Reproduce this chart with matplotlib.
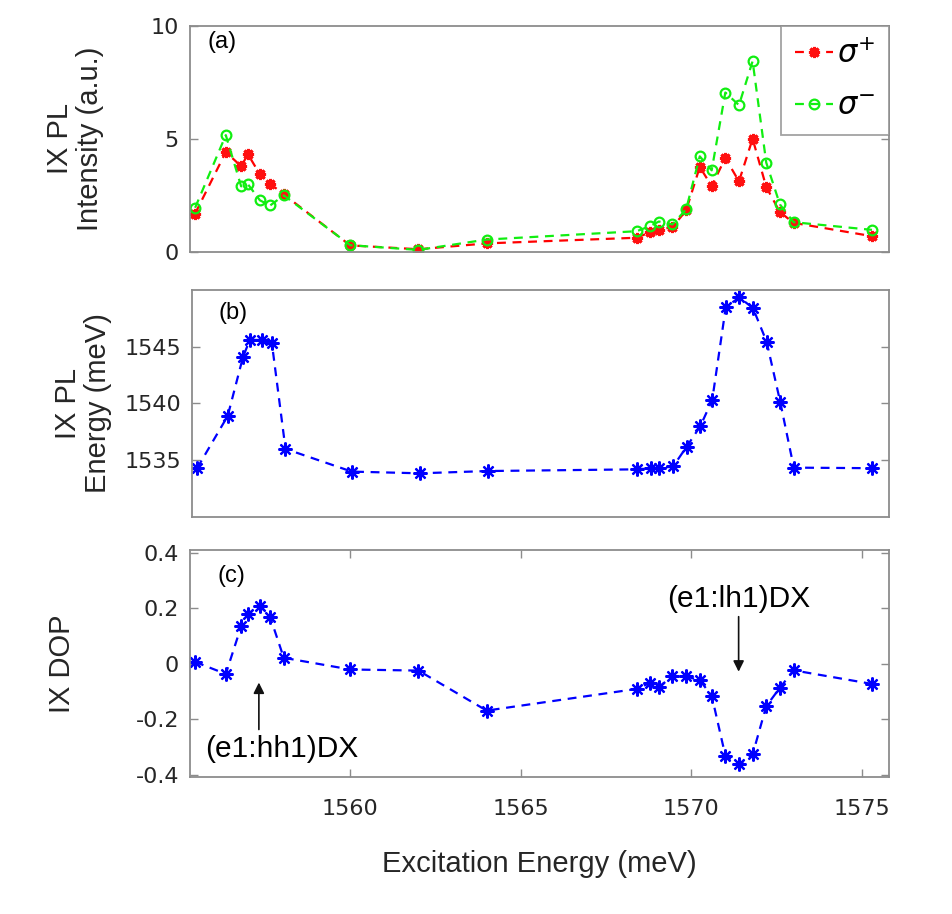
import matplotlib
matplotlib.use("Agg")
import matplotlib.pyplot as plt
import numpy as np

# ---------------- data ----------------
energy = [1555.45, 1556.35, 1556.8, 1557.0, 1557.35, 1557.65, 1558.05, 1560.0, 1562.0, 1564.0,
          1568.4, 1568.8, 1569.05, 1569.45, 1569.85, 1570.25, 1570.6, 1571.0, 1571.4, 1571.8,
          1572.2, 1572.6, 1573.0, 1575.3]

int_sigma_plus = [1.68, 4.41, 3.78, 4.31, 3.42, 3.01, 2.53, 0.27, 0.10, 0.36,
                  0.61, 0.86, 0.96, 1.08, 1.82, 3.75, 2.90, 4.15, 3.11, 5.00,
                  2.86, 1.75, 1.27, 0.68]
int_sigma_minus = [1.94, 5.16, 2.89, 2.98, 2.27, 2.04, 2.49, 0.28, 0.07, 0.53,
                   0.90, 1.13, 1.33, 1.20, 1.87, 4.22, 3.60, 7.05, 6.49, 8.44,
                   3.94, 2.09, 1.30, 0.96]

pl_energy = [1534.3, 1538.9, 1544.1, 1545.6, 1545.6, 1545.3, 1536.0, 1534.0, 1533.85, 1534.05,
             1534.2, 1534.3, 1534.3, 1534.45, 1536.2, 1538.0, 1540.3, 1548.5, 1549.35, 1548.4,
             1545.45, 1540.15, 1534.35, 1534.3]

dop = [0.007, -0.036, 0.135, 0.18, 0.21, 0.169, 0.022, -0.02, -0.024, -0.168,
       -0.09, -0.068, -0.083, -0.045, -0.045, -0.059, -0.114, -0.33, -0.362, -0.326,
       -0.152, -0.086, -0.023, -0.072]

legend_labels = [r'$\sigma^{+}$', r'$\sigma^{-}$']
xticks = [1560, 1565, 1570, 1575]

# ---------------- style ----------------
plt.rcParams['font.family'] = ['DejaVu Sans']
label_font = 'Liberation Sans'
spine_col = '#8c8c8c'
text_col = '#262626'
W, H = 953, 914

fig = plt.figure(figsize=(W / 100, H / 100), dpi=100)

def box(l, t, r, b):
    return [l / W, 1 - b / H, (r - l) / W, (b - t) / H]

ax_a = fig.add_axes(box(190, 26, 889, 251.5))
ax_b = fig.add_axes(box(192, 290, 889, 517))
ax_c = fig.add_axes(box(190, 550, 889, 777))

xlim = (1555.3, 1575.8)
for ax in (ax_a, ax_b, ax_c):
    ax.set_xlim(*xlim)
    for s in ax.spines.values():
        s.set_color(spine_col)
        s.set_linewidth(1.3)
    ax.tick_params(direction='in', length=6, width=1.0, color=spine_col,
                   labelcolor=text_col, labelsize=16, right=True, top=True, pad=8)

ast = (8, 2, 0)

# (a)
ax_a.plot(energy, int_sigma_plus, linestyle=(0, (4, 3)), color='#ff0000', lw=1.6,
          marker=ast, ms=8, mew=2.2, mec='#ff1010', label=legend_labels[0])
ax_a.plot(energy, int_sigma_minus, linestyle=(0, (4, 3)), color='#11ee11', lw=1.6,
          marker='o', ms=7, mew=1.6, mfc='none', mec='#11ee11', label=legend_labels[1])
ax_a.set_ylim(0, 10)
ax_a.set_yticks([0, 5, 10])
ax_a.set_xticks([])
leg = ax_a.legend(loc='upper right', fontsize=22, frameon=True, fancybox=False,
                  borderaxespad=0, handlelength=1.25, handletextpad=0.12,
                  labelspacing=0.75, borderpad=0.45)
leg.get_frame().set_edgecolor(spine_col)
leg.get_frame().set_linewidth(1.3)
ax_a.set_ylabel('IX PL\nIntensity (a.u.)', fontsize=21, family=label_font,
                color=text_col, linespacing=1.1)
ax_a.yaxis.set_label_coords(-0.123, 0.5)
ax_a.text(0.025, 0.93, '(a)', transform=ax_a.transAxes, fontsize=17,
          family=label_font, va='center', ha='left', color='black')

# (b)
ax_b.plot(energy, pl_energy, linestyle=(0, (4, 3)), color='#0000ff', lw=1.6,
          marker=ast, ms=10, mew=1.6)
ax_b.set_ylim(1530, 1550)
ax_b.set_yticks([1535, 1540, 1545])
ax_b.set_xticks([])
ax_b.set_ylabel('IX PL\nEnergy (meV)', fontsize=21, family=label_font,
                color=text_col, linespacing=1.1)
ax_b.yaxis.set_label_coords(-0.115, 0.5)
ax_b.text(0.038, 0.9, '(b)', transform=ax_b.transAxes, fontsize=17,
          family=label_font, va='center', ha='left', color='black')

# (c)
ax_c.plot(energy, dop, linestyle=(0, (4, 3)), color='#0000ff', lw=1.6,
          marker=ast, ms=10, mew=1.6)
ax_c.set_ylim(-0.407, 0.41)
ax_c.set_yticks([-0.4, -0.2, 0, 0.2, 0.4])
ax_c.set_yticklabels(['-0.4', '-0.2', '0', '0.2', '0.4'])
ax_c.set_xticks(xticks)
ax_c.tick_params(axis='x', pad=16)
ax_c.set_ylabel('IX DOP', fontsize=21, family=label_font, color=text_col)
ax_c.yaxis.set_label_coords(-0.163, 0.5)
ax_c.set_xlabel('Excitation Energy (meV)', fontsize=21, family=label_font,
                color=text_col, labelpad=22)
ax_c.text(0.04, 0.885, '(c)', transform=ax_c.transAxes, fontsize=17,
          family=label_font, va='center', ha='left', color='black')

ax_c.annotate('', xy=(1557.32, -0.067), xytext=(1557.32, -0.236),
              arrowprops=dict(arrowstyle='-|>', color='#111111', lw=1.2,
                              mutation_scale=16, shrinkA=0, shrinkB=0))
ax_c.text(1558.0, -0.307, '(e1:hh1)DX', fontsize=21.5, family=label_font,
          ha='center', va='center', color='black')
ax_c.annotate('', xy=(1571.39, -0.028), xytext=(1571.39, 0.17),
              arrowprops=dict(arrowstyle='-|>', color='#111111', lw=1.2,
                              mutation_scale=16, shrinkA=0, shrinkB=0))
ax_c.text(1571.39, 0.235, '(e1:lh1)DX', fontsize=21.5, family=label_font,
          ha='center', va='center', color='black')

fig.savefig('out.png', dpi=100)
